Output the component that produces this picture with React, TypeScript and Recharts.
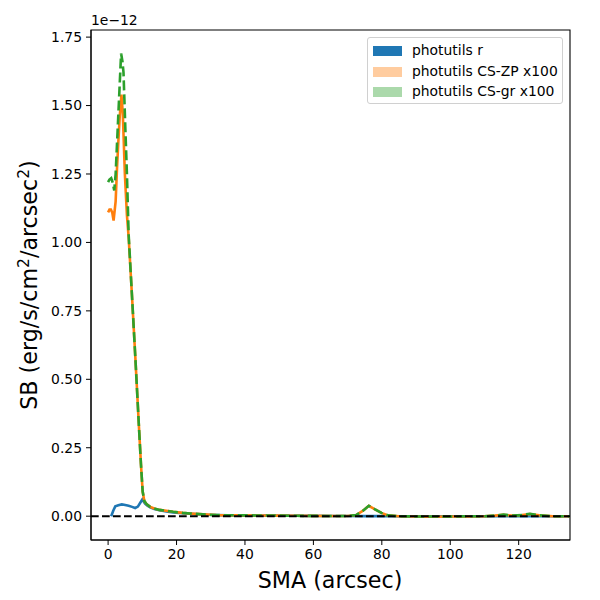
import React from 'react';
import { LineChart, Line, XAxis, YAxis, ReferenceLine, ReferenceArea, Label } from 'recharts';

// SB values in units of 1e-12 erg/s/cm^2/arcsec^2
const smaR = [0.9, 1.5, 2.1, 3.0, 4.0, 5.0, 6.0, 7.0, 7.9, 8.7, 9.4, 10.0, 10.8, 11.5, 12.3, 13.5, 15, 17, 19, 21.8, 24, 26.7, 29, 31.6, 35, 40, 45, 50, 55, 60, 65, 70, 75, 80, 85, 90, 95, 100, 105, 110, 115, 120, 125, 130, 135, 140];
const sbR = [0.0, 0.02, 0.036, 0.04, 0.043, 0.041, 0.038, 0.034, 0.03, 0.035, 0.049, 0.061, 0.046, 0.038, 0.032, 0.026, 0.022, 0.017, 0.014, 0.011, 0.009, 0.007, 0.005, 0.004, 0.0035, 0.003, 0.0025, 0.002, 0.0015, 0.001, 0.0008, 0.0005, 0.0003, 0.0002, 0.0, 0.0, 0.0, 0.0, 0.0, 0.0, 0.0, 0.0, 0.0, 0.0, 0.0, 0.0];

const smaZP = [0, 0.4, 0.8, 1.2, 1.6, 2.2, 2.6, 3.0, 3.4, 3.9, 4.3, 4.9, 5.5, 6.0, 7.0, 8.0, 9.0, 9.6, 10.1, 10.6, 11.3, 12.3, 13.5, 15, 17, 19, 21.8, 24, 26.7, 29, 31.6, 35, 40, 45, 50, 55, 60, 65, 70, 72.5, 74.5, 76.2, 78, 79.9, 81.8, 85, 90, 95, 100, 105, 110, 113, 115.6, 118, 121, 123.3, 126, 130, 135, 140];
const sbZP = [1.11, 1.12, 1.12, 1.11, 1.08, 1.15, 1.27, 1.37, 1.46, 1.54, 1.47, 1.25, 1.1, 1.02, 0.8, 0.57, 0.33, 0.19, 0.09, 0.055, 0.043, 0.034, 0.028, 0.023, 0.02, 0.016, 0.012, 0.01, 0.0075, 0.006, 0.004, 0.0035, 0.003, 0.0025, 0.002, 0.0015, 0.001, 0.0008, 0.0005, 0.004, 0.02, 0.038, 0.025, 0.012, 0.003, 0.0, -0.001, -0.002, -0.001, -0.001, 0.0, 0.002, 0.005, 0.002, 0.004, 0.008, 0.003, 0.0, 0.0, 0.0];

const smaGR = [0, 0.4, 0.9, 1.3, 1.8, 2.2, 2.6, 3.0, 3.4, 3.8, 4.2, 4.5, 5.0, 5.5, 6.0, 7.0, 8.0, 9.0, 9.6, 10.1, 10.6, 11.3, 12.3, 13.5, 15, 17, 19, 21.8, 24, 26.7, 29, 31.6, 35, 40, 45, 50, 55, 60, 65, 70, 72.5, 74.5, 76.2, 78, 79.9, 81.8, 85, 90, 95, 100, 105, 110, 113, 115.6, 118, 121, 123.3, 126, 130, 135, 140];
const sbGR = [1.22, 1.23, 1.235, 1.22, 1.19, 1.25, 1.36, 1.47, 1.58, 1.69, 1.66, 1.62, 1.43, 1.25, 1.03, 0.8, 0.57, 0.33, 0.19, 0.09, 0.055, 0.043, 0.034, 0.028, 0.023, 0.02, 0.016, 0.012, 0.01, 0.0075, 0.006, 0.004, 0.0035, 0.003, 0.0025, 0.002, 0.0015, 0.001, 0.0008, 0.0005, 0.004, 0.02, 0.038, 0.025, 0.012, 0.003, 0.0, -0.001, -0.001, -0.001, 0.0, 0.0, 0.002, 0.006, 0.002, 0.004, 0.009, 0.003, 0.0, 0.0, 0.0];

const xTicks = [0, 20, 40, 60, 80, 100, 120];
const yTicks = [0, 0.25, 0.5, 0.75, 1.0, 1.25, 1.5, 1.75];
const xDomain = [-5, 135];
const yDomain = [-0.087, 1.776];

const legendNames = ['photutils r', 'photutils CS-ZP x100', 'photutils CS-gr x100'];
const legendColors = ['#1f77b4', 'rgba(255,127,14,0.4)', 'rgba(44,160,44,0.4)'];

const zip = (xs: number[], ys: number[]) => xs.map((x, i) => ({ sma: x, sb: ys[i] }));

const font = 'DejaVu Sans';
const tickStyle = { fill: '#000', fontSize: 13.9, fontFamily: font };

const YLabel = () => (
  <text
    x={37}
    y={285}
    transform="rotate(-90, 37, 285)"
    textAnchor="middle"
    fontSize={22.2}
    fontFamily={font}
    fill="#000"
  >
    SB (erg/s/cm<tspan dy={-8} fontSize={15.5}>2</tspan>
    <tspan dy={8}>/arcsec</tspan>
    <tspan dy={-8} fontSize={15.5}>2</tspan>
    <tspan dy={8}>)</tspan>
  </text>
);

const OffsetText = () => (
  <text x={91} y={25} fontSize={13.9} fontFamily={font} fill="#000">
    1e−12
  </text>
);

export default function App() {
  return (
    <div style={{ position: 'absolute', left: 0, top: 0, width: 600, height: 600, fontFamily: font }}>
      <LineChart width={600} height={600} margin={{ top: 30, right: 30, left: 0, bottom: 0 }}>
        <XAxis
          type="number"
          dataKey="sma"
          domain={xDomain}
          ticks={xTicks}
          allowDataOverflow
          height={60}
          stroke="#000"
          tick={tickStyle}
          tickSize={5}
          tickMargin={4}
        >
          <Label
            content={() => (
              <text x={330} y={588} textAnchor="middle" fontSize={22.2} fontFamily={font} fill="#000">
                SMA (arcsec)
              </text>
            )}
          />
        </XAxis>
        <YAxis
          type="number"
          domain={yDomain}
          ticks={yTicks}
          allowDataOverflow
          width={91}
          stroke="#000"
          tick={tickStyle}
          tickSize={5}
          tickMargin={4}
          tickFormatter={(v: number) => v.toFixed(2)}
        >
          <Label content={() => <YLabel />} />
        </YAxis>
        <Line data={zip(smaR, sbR)} dataKey="sb" type="linear" stroke="#1f77b4" strokeWidth={2.6} dot={false} isAnimationActive={false} />
        <Line data={zip(smaZP, sbZP)} dataKey="sb" type="linear" stroke="#ff7f0e" strokeWidth={2.6} dot={false} isAnimationActive={false} />
        <Line data={zip(smaGR, sbGR)} dataKey="sb" type="linear" stroke="#2ca02c" strokeWidth={2.6} strokeDasharray="10 4" dot={false} isAnimationActive={false} />
        <ReferenceLine y={0} stroke="#000" strokeWidth={2} strokeDasharray="7.7 3.3" />
        <ReferenceArea x1={xDomain[0]} x2={xDomain[1]} y1={yDomain[0]} y2={yDomain[1]} fill="none" stroke="#000" strokeWidth={1.1} fillOpacity={0} />
        <ReferenceLine y={yDomain[1]} stroke="none" label={<OffsetText />} />
      </LineChart>
      <div
        style={{
          position: 'absolute',
          left: 367,
          top: 37,
          width: 196,
          height: 67,
          boxSizing: 'border-box',
          border: '1px solid #d0d0d0',
          borderRadius: 3,
          background: 'rgba(255,255,255,0.8)',
          fontSize: 13.9,
          color: '#000',
        }}
      >
        {legendNames.map((name, i) => (
          <div key={name} style={{ position: 'absolute', left: 0, top: 13 + i * 20.5 - 8, height: 16, width: '100%' }}>
            <span style={{ position: 'absolute', left: 5, top: 3, width: 29, height: 10, background: legendColors[i] }} />
            <span style={{ position: 'absolute', left: 44, top: -1, whiteSpace: 'nowrap', lineHeight: '16px' }}>{name}</span>
          </div>
        ))}
      </div>
    </div>
  );
}
